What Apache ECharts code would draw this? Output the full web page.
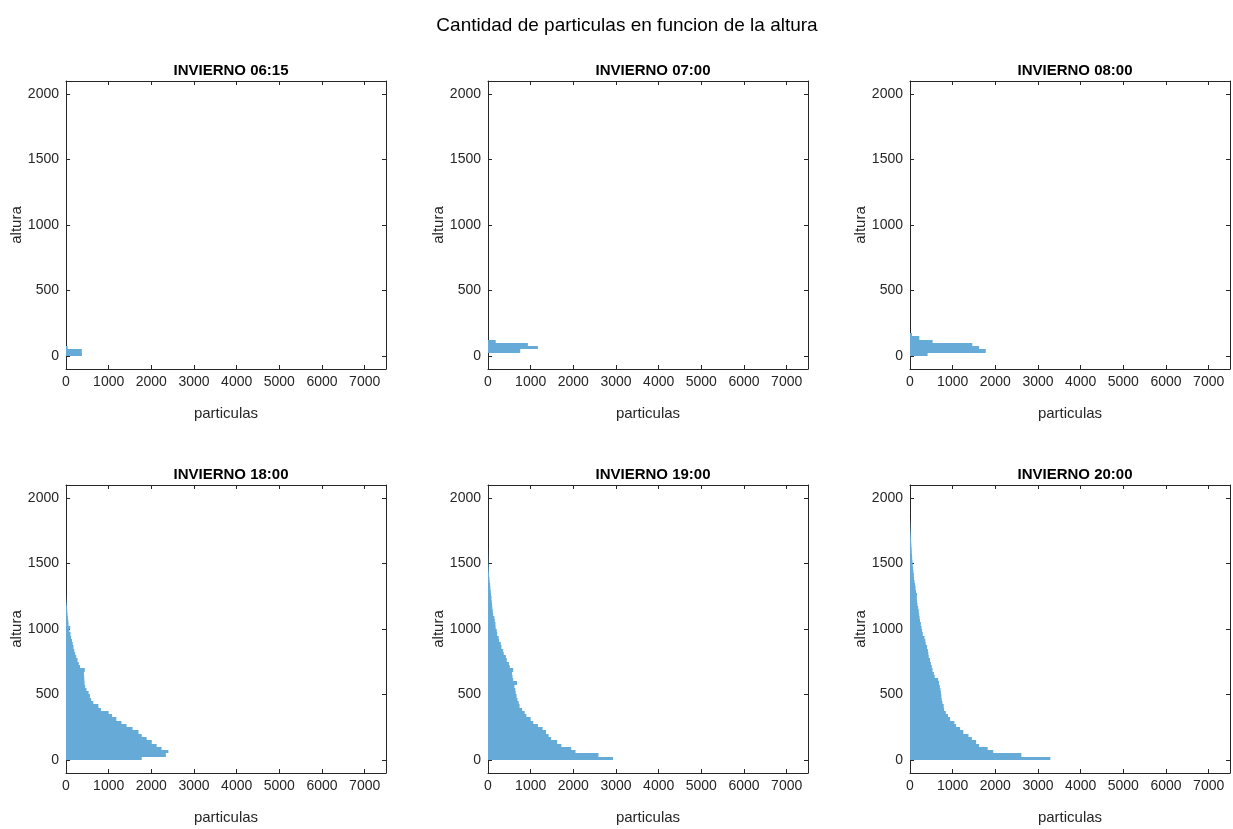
<!DOCTYPE html>
<html>
<head>
<meta charset="utf-8">
<script src="https://cdn.jsdelivr.net/npm/echarts@6/dist/echarts.min.js"></script>
<style>
html,body{margin:0;padding:0;background:#fff;}
#chart{width:1233px;height:829px;}
</style>
</head>
<body>
<div id="chart"></div>
<script>
// ---------- data ----------
const mainTitle = 'Cantidad de particulas en funcion de la altura';
const panelTitles = ['INVIERNO 06:15', 'INVIERNO 07:00', 'INVIERNO 08:00',
                     'INVIERNO 18:00', 'INVIERNO 19:00', 'INVIERNO 20:00'];
const xTicks = [0, 1000, 2000, 3000, 4000, 5000, 6000, 7000];
const yTicks = [0, 500, 1000, 1500, 2000];
const xLabel = 'particulas';
const yLabel = 'altura';
const binWidth = 25; // altura bin width (bins start at 0)

const counts0615 = [375, 370, 40];
const counts0700 = [0, 755, 1170, 935, 180];
const counts0800 = [412, 1775, 1620, 1460, 530, 218, 47];
const counts1800 = [1775, 2340, 2400, 2240, 2125, 2010, 1890, 1775, 1700, 1560,
                    1420, 1300, 1180, 1080, 1000, 820, 760, 640, 590, 560,
                    530, 480, 450, 435, 430, 425, 420, 440, 330, 300,
                    270, 240, 215, 195, 175, 158, 140, 120, 105, 80,
                    100, 60, 52, 45, 38, 30, 24, 15, 9, 4, 1];
const counts1900 = [2930, 2590, 2050, 1950, 1720, 1620, 1480, 1420, 1360, 1280,
                    1170, 1060, 1000, 900, 860, 800, 740, 720, 690, 670,
                    650, 640, 620, 680, 590, 575, 565, 590, 510, 490,
                    440, 420, 370, 355, 315, 300, 260, 250, 215, 205,
                    180, 175, 160, 150, 120, 112, 100, 95, 88, 82,
                    72, 66, 56, 50, 40, 35, 25, 20, 16, 12,
                    8, 6, 4, 2, 1];
const counts2000 = [3290, 2610, 1950, 1820, 1620, 1550, 1450, 1370, 1250, 1175,
                    1080, 1040, 940, 890, 840, 800, 790, 760, 745, 735,
                    725, 715, 700, 680, 660, 580, 560, 530, 510, 490,
                    470, 440, 430, 420, 400, 370, 360, 340, 300, 285,
                    270, 255, 235, 225, 215, 205, 190, 175, 165, 160,
                    165, 140, 130, 120, 105, 95, 90, 80, 72, 65,
                    58, 52, 48, 42, 38, 33, 28, 24, 20, 16,
                    12, 8, 5, 2];
const panelCounts = [counts0615, counts0700, counts0800, counts1800, counts1900, counts2000];

// ---------- layout ----------
const lefts = [66, 488, 910];
const tops = [81, 485];
const gridW = 320, gridH = 288;
const barColor = '#66aad7';
const axisColor = '#262626';
const font = '"Liberation Sans", Arial, Helvetica, sans-serif';

const grids = [], xAxes = [], yAxes = [], series = [];
const titles = [{
  text: mainTitle, left: 622, top: 11, textAlign: 'center',
  textStyle: {fontFamily: font, fontSize: 19, fontWeight: 'normal', color: '#000'}
}];

function renderItem(params, api) {
  const c = api.value(0);
  if (!c) return null;
  const p0 = api.coord([0, api.value(2)]);
  const p1 = api.coord([c, api.value(1)]);
  // snap bin edges to whole pixels so neighbouring bins join without hairlines
  const yTop = Math.round(p0[1]), yBot = Math.round(p1[1]);
  return {
    type: 'rect',
    shape: {x: p0[0], y: yTop, width: p1[0] - p0[0], height: yBot - yTop},
    style: {fill: barColor}
  };
}

const plainNum = v => String(v);

for (let i = 0; i < 6; i++) {
  const row = Math.floor(i / 3), col = i % 3;
  grids.push({left: lefts[col], top: tops[row], width: gridW, height: gridH, containLabel: false});
  titles.push({
    text: panelTitles[i], left: lefts[col] + gridW / 2, top: tops[row] - 23, textAlign: 'center',
    textStyle: {fontFamily: font, fontSize: 15, fontWeight: 'bold', color: '#000'}
  });
  const common = {
    type: 'value', gridIndex: i, splitLine: {show: false},
    axisLine: {show: true, onZero: false, lineStyle: {color: axisColor, width: 1}}
  };
  xAxes.push(Object.assign({}, common, {
    position: 'bottom', min: 0, max: 7500,
    name: xLabel, nameLocation: 'middle', nameGap: 37,
    nameTextStyle: {fontFamily: font, fontSize: 15, color: axisColor},
    axisTick: {show: true, inside: true, length: 4, customValues: xTicks, lineStyle: {color: axisColor}},
    axisLabel: {show: true, customValues: xTicks, formatter: plainNum, margin: 6, fontFamily: font, fontSize: 14, color: axisColor}
  }));
  xAxes.push(Object.assign({}, common, {
    position: 'top', min: 0, max: 7500,
    axisTick: {show: true, inside: true, length: 4, customValues: xTicks, lineStyle: {color: axisColor}},
    axisLabel: {show: false}
  }));
  yAxes.push(Object.assign({}, common, {
    position: 'left', min: -100, max: 2100,
    name: yLabel, nameLocation: 'middle', nameGap: 38, nameRotate: 90,
    nameTextStyle: {fontFamily: font, fontSize: 15, color: axisColor},
    axisTick: {show: true, inside: true, length: 4, customValues: yTicks, lineStyle: {color: axisColor}},
    axisLabel: {show: true, customValues: yTicks, formatter: plainNum, margin: 7, fontFamily: font, fontSize: 14, color: axisColor}
  }));
  yAxes.push(Object.assign({}, common, {
    position: 'right', min: -100, max: 2100,
    axisTick: {show: true, inside: true, length: 4, customValues: yTicks, lineStyle: {color: axisColor}},
    axisLabel: {show: false}
  }));
  series.push({
    type: 'custom', coordinateSystem: 'cartesian2d',
    xAxisIndex: 2 * i, yAxisIndex: 2 * i,
    renderItem: renderItem, clip: true,
    encode: {x: 0, y: [1, 2]},
    data: panelCounts[i].map((c, k) => [c, k * binWidth, (k + 1) * binWidth]),
    silent: true
  });
}

const chart = echarts.init(document.getElementById('chart'), null, {renderer: 'canvas'});
chart.setOption({
  backgroundColor: '#fff',
  animation: false,
  title: titles,
  grid: grids,
  xAxis: xAxes,
  yAxis: yAxes,
  series: series
});
</script>
</body>
</html>
